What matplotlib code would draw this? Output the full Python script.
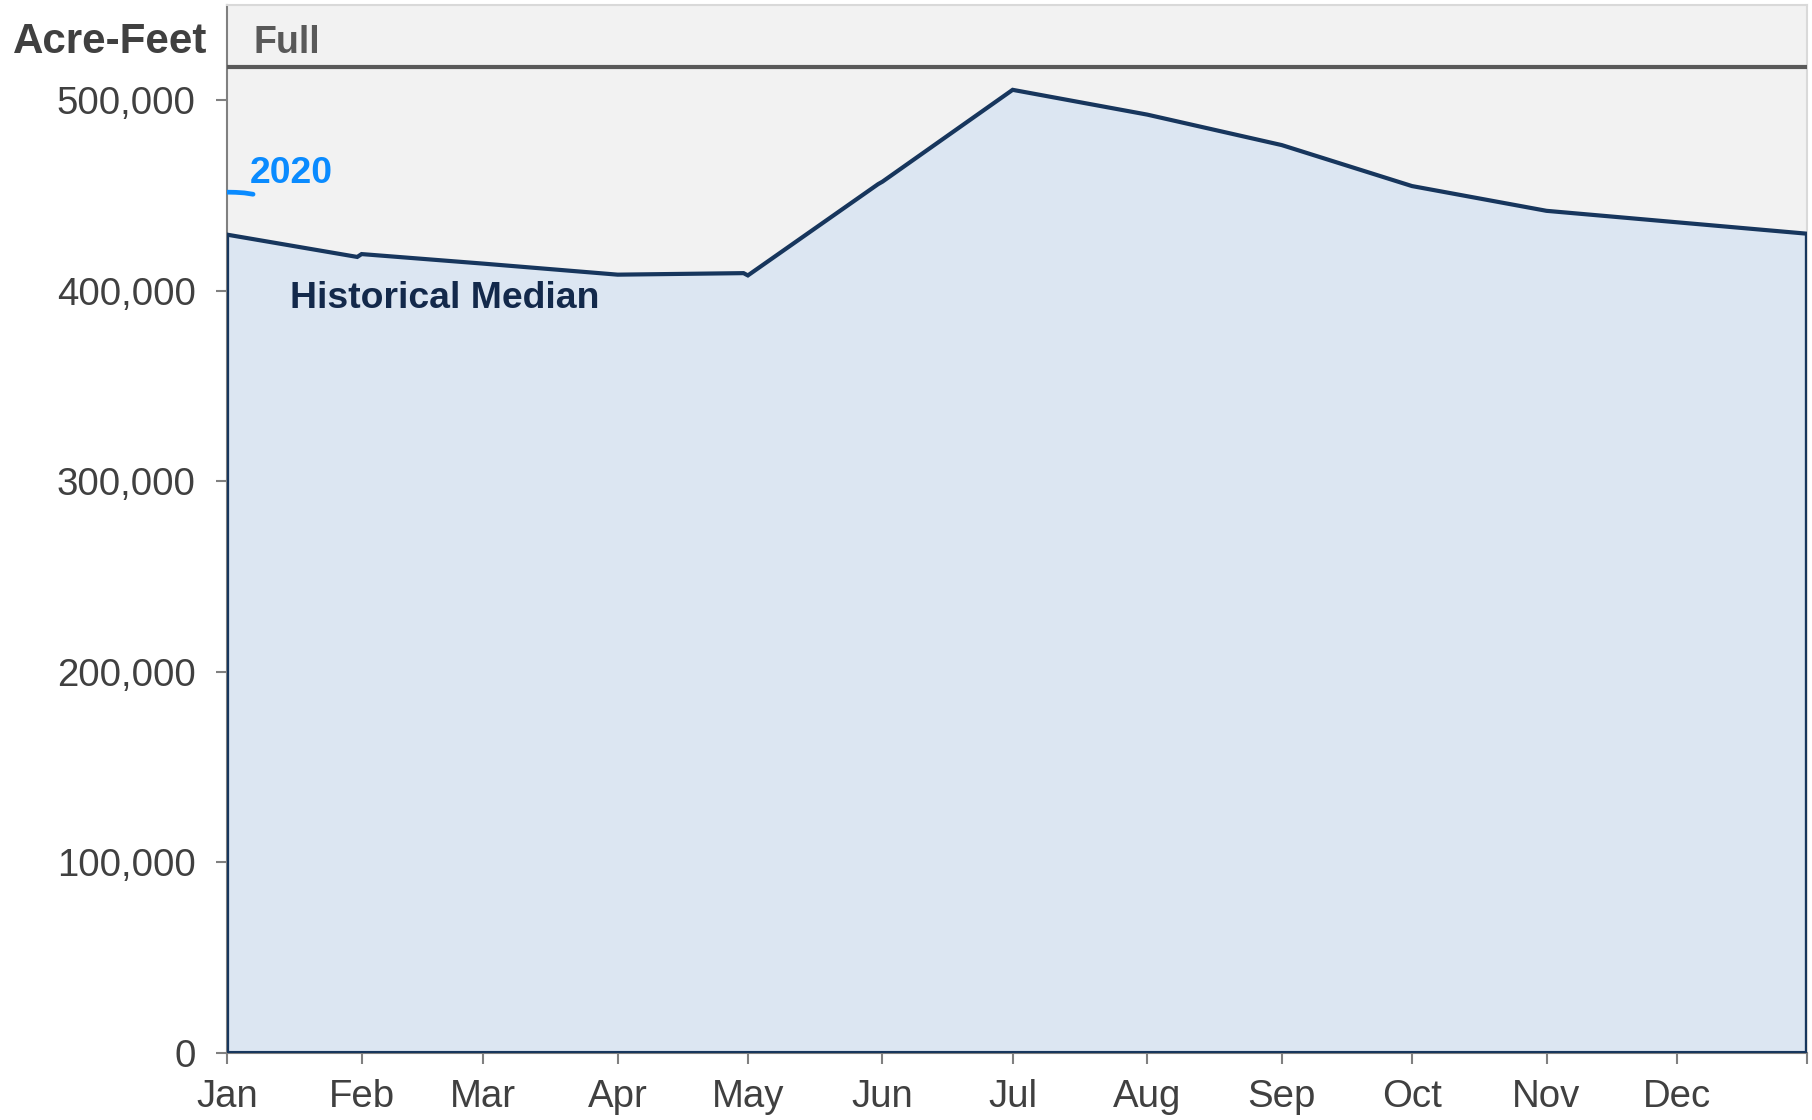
import matplotlib.pyplot as plt

# Dados (dia do ano, volume em acre-feet)
month_labels = ['Jan', 'Feb', 'Mar', 'Apr', 'May', 'Jun',
                'Jul', 'Aug', 'Sep', 'Oct', 'Nov', 'Dec']
month_days = [0, 31, 59, 90, 120, 151, 181, 212, 243, 273, 304, 334, 364]

median_days = [0, 30, 31, 59, 90, 119, 120, 150, 151, 181, 212, 243, 273, 304, 334, 364]
median_vals = [429500, 417800, 419300, 414300, 408500, 409300, 408100, 456000,
               457300, 505500, 492500, 476500, 455000, 442000, 436000, 430000]

days_2020 = [0, 2, 4, 6]
vals_2020 = [451800, 451700, 451400, 450700]

full_pool = 517600

navy = '#17365D'
fill_c = '#DCE6F2'
blue = '#0A8BFF'
grey_txt = '#404040'

plt.rcParams['font.family'] = ['Liberation Sans', 'DejaVu Sans']

fig = plt.figure(figsize=(18.12, 11.2), dpi=100)
ax = fig.add_axes([0.1253, 0.0598, 0.8719, 0.9357])
ax.set_facecolor('#F2F2F2')

# Mediana histórica: área preenchida com contorno
poly_x = [median_days[0]] + median_days + [median_days[-1]]
poly_y = [0] + median_vals + [0]
ax.fill(poly_x, poly_y, facecolor=fill_c, edgecolor=navy, linewidth=3, zorder=3)

# Linha de volume cheio
ax.axhline(full_pool, color='#595959', linewidth=3, zorder=4)

# Série 2020
ax.plot(days_2020, vals_2020, color=blue, linewidth=3.4, solid_capstyle='round', zorder=5)

ax.set_xlim(0, 364)
ax.set_ylim(0, 550000)
ax.set_xticks(month_days)
ax.set_xticklabels(month_labels + [''])
ax.set_yticks([0, 100000, 200000, 300000, 400000, 500000])
ax.set_yticklabels([f'{v:,}' for v in ax.get_yticks().astype(int)])

ax.tick_params(axis='both', colors='#808080', labelcolor=grey_txt, labelsize=27.6,
               length=8, width=1.5)
ax.tick_params(axis='y', pad=14.5)
ax.tick_params(axis='x', pad=11)

for side in ['top', 'right']:
    ax.spines[side].set_color('#D9D9D9')
    ax.spines[side].set_linewidth(1.5)
for side in ['left', 'bottom']:
    ax.spines[side].set_color('#808080')
    ax.spines[side].set_linewidth(1.5)

# Rótulos
ax.text(6, 524900, 'Full', fontsize=27, fontweight='bold', color='#595959', va='baseline')
ax.text(5.3, 456700, '2020', fontsize=26.9, fontweight='bold', color=blue, va='baseline')
ax.text(14.5, 391200, 'Historical Median', fontsize=26.9, fontweight='bold', color='#13294B',
        va='baseline')
fig.text(0.0072, 0.9527, 'Acre-Feet', fontsize=30.3, fontweight='bold', color=grey_txt,
         va='baseline')

fig.savefig('out.png', dpi=100)
